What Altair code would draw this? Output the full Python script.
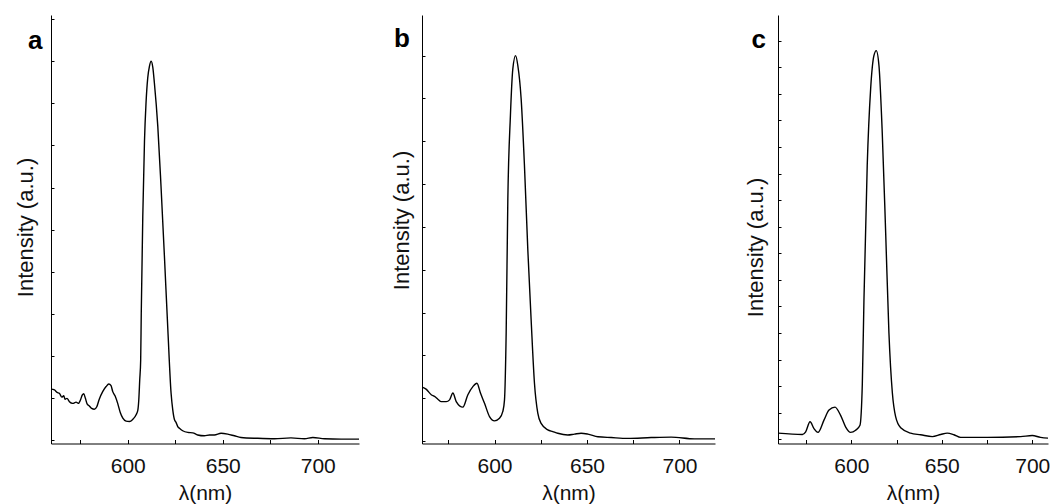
import altair as alt
import pandas as pd

# ---------------- data ----------------
a_nm = [559.6, 561.4, 562.8, 564.0, 565.3, 566.3, 567.0, 568.0, 569.3, 571.0, 572.8, 574.0,
        575.0, 576.1, 576.8, 577.7, 578.6, 579.8, 581.0, 582.4, 583.7, 585.0, 586.8, 588.6,
        590.0, 591.2, 592.1, 593.3, 594.7, 596.1, 597.4, 599.1, 600.9, 602.6, 604.4, 605.3,
        605.8, 606.3, 606.8, 607.1, 607.9, 608.8, 609.6, 610.5, 611.4, 612.3, 613.2, 614.0,
        615.8, 617.5, 619.3, 621.1, 622.8, 623.7, 624.6, 625.4, 626.3, 627.2, 628.9, 631.6,
        634.2, 636.8, 640.3, 643.0, 645.6, 649.1, 652.6, 656.1, 659.6, 668.4, 677.2, 685.9,
        693.0, 697.4, 703.5, 712.3, 721.7]
a_int = [1.21, 1.19, 1.13, 1.11, 1.02, 1.05, 0.97, 0.99, 0.91, 0.87, 0.90, 0.87,
         0.94, 1.07, 1.10, 0.99, 0.86, 0.81, 0.75, 0.73, 0.79, 0.97, 1.15, 1.27,
         1.33, 1.29, 1.15, 1.05, 0.87, 0.65, 0.52, 0.45, 0.44, 0.49, 0.60, 0.71,
         0.95, 1.43, 1.90, 3.00, 5.30, 7.10, 8.00, 8.60, 8.88, 9.00, 8.85, 8.49,
         7.46, 6.03, 4.36, 2.62, 1.11, 0.71, 0.48, 0.42, 0.32, 0.28, 0.22, 0.18,
         0.17, 0.12, 0.10, 0.12, 0.12, 0.16, 0.14, 0.10, 0.06, 0.04, 0.03, 0.05,
         0.03, 0.06, 0.03, 0.02, 0.02]

b_nm = [560.8, 563.0, 565.8, 567.6, 569.5, 571.2, 573.9, 575.7, 577.5, 579.3, 582.9, 585.6,
        588.3, 590.5, 592.4, 594.6, 597.3, 600.0, 602.7, 604.5, 605.4, 606.3, 607.2, 608.6,
        609.9, 611.4, 612.6, 614.4, 616.2, 618.0, 619.8, 621.6, 623.4, 625.2, 628.8, 631.5,
        634.2, 639.6, 643.2, 646.8, 650.5, 655.9, 663.1, 672.1, 684.7, 695.5, 708.1, 719.2]
b_int = [1.26, 1.21, 1.08, 1.04, 0.97, 0.92, 0.92, 0.96, 1.12, 0.92, 0.79, 1.08,
         1.27, 1.35, 1.12, 0.88, 0.57, 0.47, 0.53, 0.69, 0.96, 2.52, 5.64, 7.60,
         8.69, 9.00, 8.77, 7.99, 6.42, 4.47, 2.83, 1.35, 0.65, 0.41, 0.26, 0.22,
         0.18, 0.14, 0.16, 0.18, 0.16, 0.10, 0.08, 0.06, 0.08, 0.09, 0.05, 0.05]

c_nm = [559.5, 573.0, 574.8, 577.2, 579.4, 581.6, 584.9, 587.7, 591.0, 594.1, 596.9, 599.6,
        602.4, 604.8, 606.1, 607.0, 608.8, 610.7, 612.5, 613.8, 615.3, 617.1, 619.0, 620.8,
        622.7, 624.5, 627.3, 632.8, 638.3, 644.8, 649.4, 653.0, 656.7, 660.4, 675.1, 693.6,
        700.0, 704.6, 715.0]
c_int = [0.23, 0.18, 0.28, 0.66, 0.40, 0.26, 0.72, 1.10, 1.21, 0.90, 0.46, 0.26,
         0.34, 0.53, 2.10, 5.26, 10.30, 13.20, 14.44, 14.63, 14.06, 11.55, 7.77, 4.00,
         1.74, 0.85, 0.43, 0.23, 0.17, 0.10, 0.18, 0.23, 0.17, 0.07, 0.07, 0.10,
         0.14, 0.07, 0.02]

x_ticks = [575, 600, 625, 650, 675, 700]
y_ticks_ab = list(range(0, 11))
y_ticks_c = list(range(0, 16))

FONT = "Liberation Sans"
H = 428.5


def panel(nm, val, xdom, ydom, yticks, width, label, lab_x, lab_y, tx, ty):
    df = pd.DataFrame({"nm": nm, "val": val})
    line = alt.Chart(df).mark_line(
        color="black", strokeWidth=1.4, interpolate="monotone", clip=True
    ).encode(
        x=alt.X("nm:Q",
                scale=alt.Scale(domain=xdom, nice=False, zero=False),
                axis=alt.Axis(values=x_ticks,
                              labelExpr="datum.value % 50 == 0 ? datum.label : ''",
                              tickSize={"expr": "-4"}, labelPadding=16,
                              labelFontSize=21, labelFont=FONT, labelColor="#111",
                              labelOverlap=False, labelFlush=False,
                              title="λ(nm)", titleFont=FONT, titleFontSize=21,
                              titleFontWeight="normal", titleColor="#111",
                              titleBaseline="alphabetic", titleY=55.5,
                              grid=False, domainColor="black", tickColor="black")),
        y=alt.Y("val:Q",
                scale=alt.Scale(domain=ydom, nice=False, zero=False),
                axis=alt.Axis(values=yticks, labels=False, tickSize={"expr": "-3"},
                              title="Intensity (a.u.)", titleFont=FONT, titleFontSize=22,
                              titleFontWeight="normal", titleColor="#111",
                              titleBaseline="alphabetic", titleX=tx, titleY=ty,
                              grid=False, domainColor="black", tickColor="black")),
    )
    lab = alt.Chart(pd.DataFrame({"t": [label]})).mark_text(
        font=FONT, fontSize=26, fontWeight="bold", color="black",
        align="left", baseline="alphabetic"
    ).encode(text="t:N", x=alt.value(lab_x), y=alt.value(lab_y))
    return alt.layer(line, lab).properties(width=width, height=H)


pa = panel(a_nm, a_int, [559.6, 721.7], [-0.083, 10.1], y_ticks_ab, 308, "a", -23, 34, -19, 212)
pb = panel(b_nm, b_int, [560.8, 719.2], [-0.059, 9.95], y_ticks_ab, 293, "b", -28, 32, -14, 205)
pc = panel(c_nm, c_int, [559.5, 708.7], [-0.16, 15.97], y_ticks_c, 270, "c", -26.5, 33, -15.5, 232)

chart = alt.hconcat(pa, pb, pc, spacing=63, bounds="flush").properties(
    padding={"left": 6, "top": 7, "right": 0, "bottom": 0}
).configure_view(stroke=None)

chart.save("out.html", embed_options={"renderer": "svg", "actions": False})
